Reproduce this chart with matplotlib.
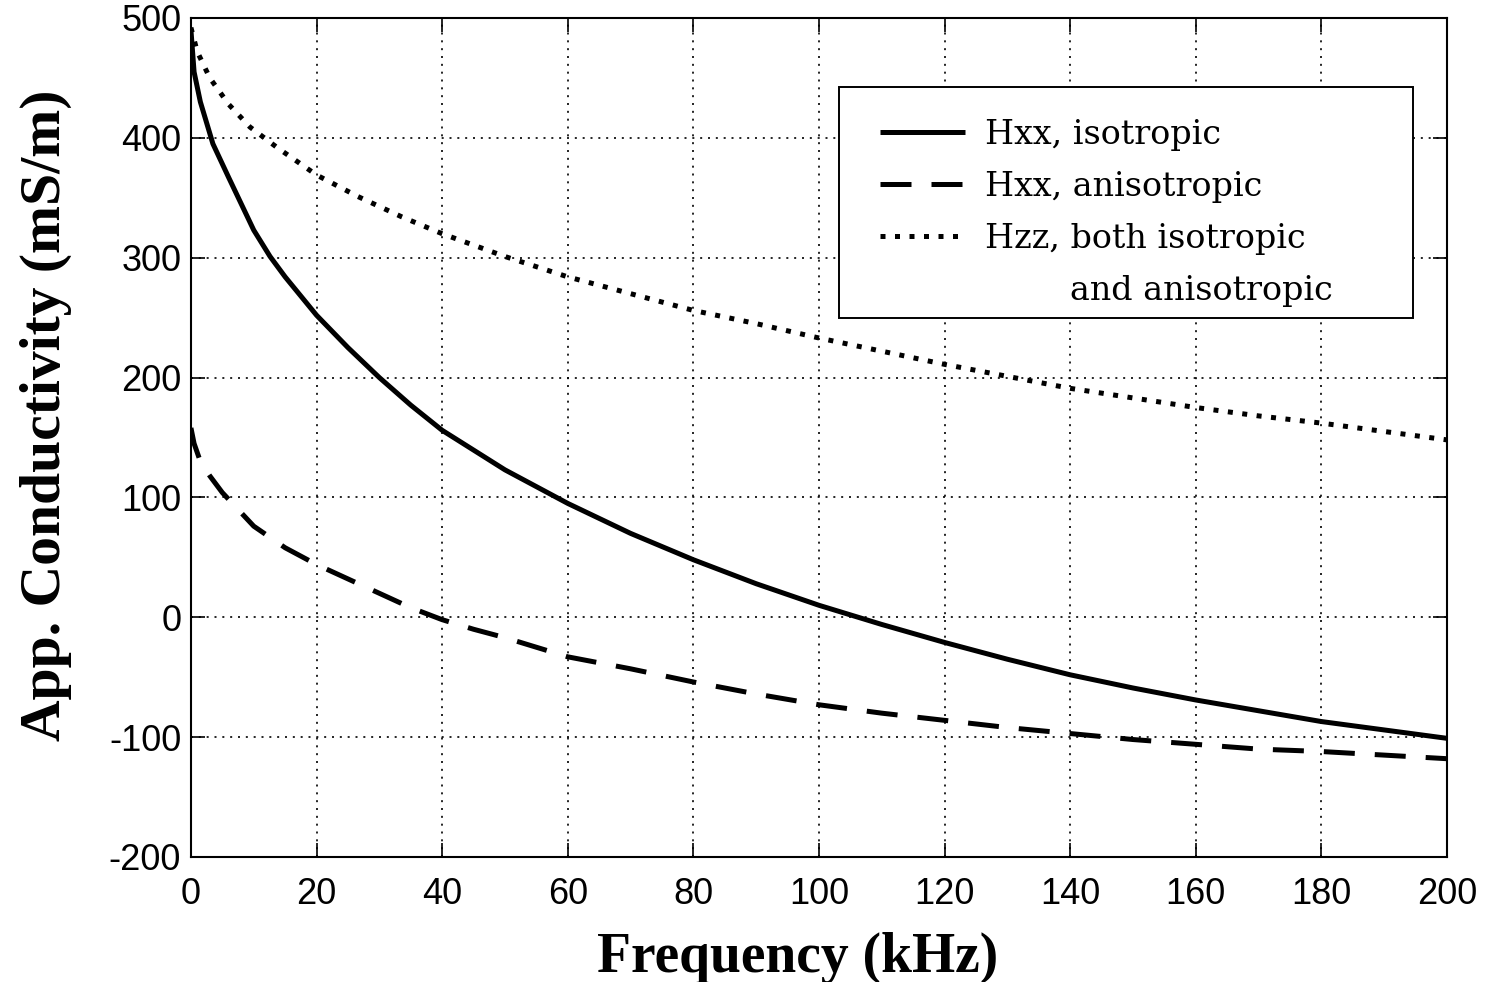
import matplotlib
matplotlib.use("Agg")
import matplotlib.pyplot as plt
from matplotlib.lines import Line2D
from matplotlib.patches import Rectangle

plt.rcParams['font.family'] = ['Liberation Serif', 'DejaVu Serif']
plt.rcParams['axes.unicode_minus'] = False

# Hxx, isotropic
f_iso = [0, 0.5, 1.5, 3.5, 6, 10, 12.6, 15, 20, 25, 30, 35, 40, 50, 60, 70, 80, 90, 100,
         110, 120, 130, 140, 150, 160, 170, 180, 190, 200]
v_iso = [490, 455, 430, 395, 367, 323, 301, 284, 252, 225, 200, 177, 156, 123, 95, 70, 48, 28, 10,
         -6, -21, -35, -48, -59, -69, -78, -87, -94, -101]

# Hxx, anisotropic
f_ani = [0, 0.5, 1.5, 3, 5, 10, 15, 20, 25, 30, 35, 40, 45, 50, 55, 60, 70, 80, 90,
         100, 110, 120, 130, 140, 150, 160, 170, 180, 190, 200]
v_ani = [158, 145, 130, 118, 104, 76, 58, 44, 32, 20, 8, -2, -10, -17, -25, -33, -43, -54, -64,
         -73, -80, -86, -92, -97, -102, -106, -110, -112, -115, -118]

# Hzz, both isotropic and anisotropic
f_zz = [0, 1, 3, 6, 9.4, 13.7, 20, 26.6, 33.6, 40, 50, 60, 70, 80, 90, 100,
        110, 120, 130, 140, 150, 160, 170, 180, 190, 200]
v_zz = [492, 472, 450, 428, 409, 392, 369, 351, 334, 320, 301, 284, 270, 256, 245, 233,
        222, 211, 201, 191, 183, 175, 168, 162, 155, 148]

labels = ['Hxx, isotropic', 'Hxx, anisotropic', 'Hzz, both isotropic',
          '        and anisotropic']

xticks = list(range(0, 201, 20))
yticks = list(range(-200, 501, 100))

fig = plt.figure(figsize=(14.87, 9.82), dpi=100)
ax = fig.add_axes([0.1284, 0.1273, 0.8447, 0.8544])

lw = 3.6
l1, = ax.plot(f_iso, v_iso, color='black', lw=lw, solid_capstyle='butt',
              solid_joinstyle='round')
l2, = ax.plot(f_ani, v_ani, color='black', lw=lw)
l2.set_dashes((6.2, 4.0))
l2.set_dash_capstyle('butt')
l3, = ax.plot(f_zz, v_zz, color='black', lw=lw)
l3.set_dashes((1.0, 1.9))
l3.set_dash_capstyle('butt')
blank = Line2D([], [], color='none')

ax.set_xlim(0, 200)
ax.set_ylim(-200, 500)
ax.set_xticks(xticks)
ax.set_yticks(yticks)
ax.tick_params(direction='in', length=10, width=1.2, top=True, right=True)
ax.tick_params(axis='x', pad=14.5)
ax.tick_params(axis='y', pad=7)
tick_font = ['Liberation Sans', 'DejaVu Sans']
for t in ax.get_xticklabels() + ax.get_yticklabels():
    t.set_fontfamily(tick_font)
    t.set_fontsize(26)
for s in ax.spines.values():
    s.set_linewidth(1.5)
ax.grid(True, color='black', linestyle=(0, (1.2, 3.5)), linewidth=1.2)

ax.set_xlabel('Frequency (kHz)', fontsize=40, fontweight='bold')
ax.xaxis.set_label_coords(0.4833, -0.0894)
ax.set_ylabel('App. Conductivity (mS/m)', fontsize=41.5, fontweight='bold')
ax.yaxis.set_label_coords(-0.0947, 0.527)

# legend box
box = Rectangle((0.5159, 0.6424), 0.457, 0.2753, transform=ax.transAxes,
                facecolor='white', edgecolor='black', lw=1.4, zorder=4)
ax.add_patch(box)
leg = ax.legend([l1, l2, l3, blank], labels, loc='upper left',
                bbox_to_anchor=(0.5486, 0.880),
                prop={'family': 'DejaVu Serif', 'size': 24},
                frameon=False, handlelength=2.55, borderpad=0,
                labelspacing=0.6, handletextpad=0.6, borderaxespad=0)
leg.set_zorder(5)

fig.savefig('out.png', dpi=100)
